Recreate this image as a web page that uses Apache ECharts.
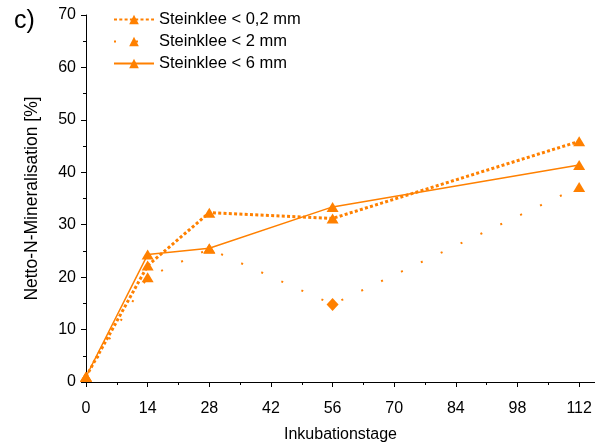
<!DOCTYPE html>
<html><head><meta charset="utf-8">
<script src="https://cdn.jsdelivr.net/npm/echarts@6/dist/echarts.min.js"></script>
<style>html,body{margin:0;padding:0;background:#fff}#c{width:595px;height:448px}</style>
</head><body><div id="c"></div>
<script>
const days = [0, 14, 28, 56, 112];
const s02 = [1.0, 22.2, 32.3, 31.2, 45.9];
const s2 = [1.0, 20.0, 25.4, 14.8, 37.2];
const s6 = [1.0, 24.3, 25.5, 33.4, 41.4];
const names = ['Steinklee < 0,2 mm', 'Steinklee < 2 mm', 'Steinklee < 6 mm'];
const xTicks = [0, 14, 28, 42, 56, 70, 84, 98, 112];
const col = '#ff8000';
const font = '"Liberation Sans", Arial, sans-serif';

function pts(v){ return days.map((d,i)=>[d, v[i]]); }

const chart = echarts.init(document.getElementById('c'), null, {renderer:'canvas'});
chart.setOption({
  animation:false,
  backgroundColor:'#fff',
  title:{text:'c)', left:9, top:4, textStyle:{fontFamily:font, fontSize:25, fontWeight:'normal', color:'#000'}},
  grid:{left:86, right:0, top:15, bottom:62},
  legend:{
    left:108, top:6, orient:'vertical', itemWidth:40, itemHeight:12, itemGap:5,
    textStyle:{fontFamily:font, fontSize:16.5, color:'#000'},
    data:names
  },
  xAxis:{
    type:'value', min:0, max:115.6, interval:14,
    name:'Inkubationstage', nameLocation:'middle', nameGap:45,
    nameTextStyle:{fontFamily:font, fontSize:16, color:'#000'},
    axisLine:{lineStyle:{color:'#000', width:1}},
    axisTick:{length:5, lineStyle:{color:'#000'}},
    minorTick:{show:true, splitNumber:2, length:3, lineStyle:{color:'#000'}},
    splitLine:{show:false},
    axisLabel:{fontFamily:font, fontSize:16, color:'#000', margin:19, showMaxLabel:false,
      formatter:v=> xTicks.indexOf(v)>=0 ? String(v) : ''}
  },
  yAxis:{
    type:'value', min:0, max:70, interval:10,
    name:'Netto-N-Mineralisation [%]', nameLocation:'middle', nameGap:45,
    nameTextStyle:{fontFamily:font, fontSize:17.5, color:'#000'},
    axisLine:{show:true, lineStyle:{color:'#000', width:1}},
    axisTick:{length:5, lineStyle:{color:'#000'}},
    minorTick:{show:true, splitNumber:2, length:3, lineStyle:{color:'#000'}},
    splitLine:{show:false},
    axisLabel:{fontFamily:font, fontSize:16, color:'#000', margin:10}
  },
  series:[
    {name:names[0], type:'line', data:pts(s02), symbol:'triangle', symbolSize:[12,10],
     itemStyle:{color:col}, lineStyle:{color:col, width:3, type:[3,2.3]}},
    {name:names[1], type:'line', data:pts(s2).map((p,i)=> i===3 ? {value:p, symbol:'diamond', symbolSize:[12,13]} : p),
     symbol:'triangle', symbolSize:[12,10],
     itemStyle:{color:col}, lineStyle:{color:col, width:2, type:[2,20]}},
    {name:names[2], type:'line', data:pts(s6), symbol:'triangle', symbolSize:[12,10],
     itemStyle:{color:col}, lineStyle:{color:col, width:1.5, type:'solid'}}
  ]
});
</script></body></html>
